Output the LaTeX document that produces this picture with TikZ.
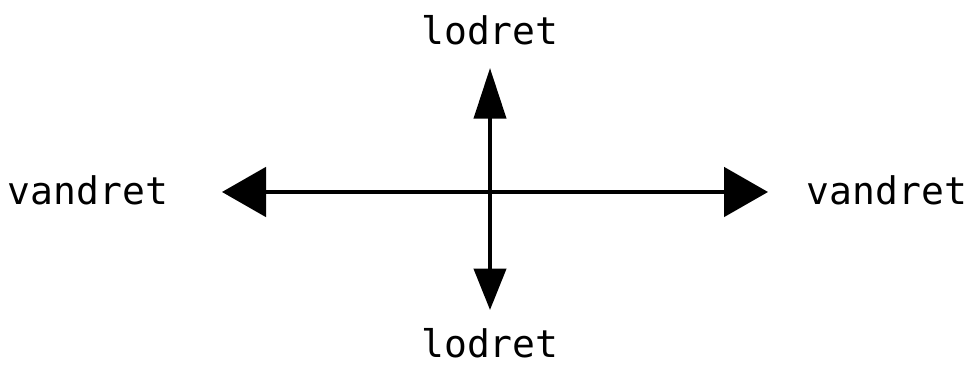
\documentclass[tikz,border=0pt]{standalone}
\usepackage{fontspec}
\setmonofont{DejaVu Sans Mono}
\usetikzlibrary{arrows.meta}

\begin{document}
\begin{tikzpicture}[
            x=0.75pt, y=0.75pt,
            dirlabel/.style={font=\fontsize{28.5}{34}\ttfamily, anchor=base, inner sep=0pt},
            axis/.style={line width=3pt, black},
            hhead/.style={axis, -{Triangle[length=33pt, width=37pt]}},
            vhead/.style={axis, -{Triangle[length=38pt, width=24pt]}},
            dhead/.style={axis, -{Triangle[length=31pt, width=24pt]}}
        ]
            \useasboundingbox (0,0) rectangle (971,367);

            % --- endepunkter ---
            \coordinate (c) at (490,175);
            \coordinate (up) at (490,299);
            \coordinate (down) at (490,57);
            \coordinate (left) at (222,175);
            \coordinate (right) at (768,175);

            % --- pile ---
            \draw[hhead] (c) -- (left);
            \draw[hhead] (c) -- (right);
            \draw[vhead] (c) -- (up);
            \draw[dhead] (c) -- (down);

            % --- tekster ---
            \node[dirlabel] (lodretop) at (490,322) {lodret};
            \node[dirlabel] (lodretned) at (490,9) {lodret};
            \node[dirlabel] (vandretv) at (88,162) {vandret};
            \node[dirlabel] (vandreth) at (887,162) {vandret};
        \end{tikzpicture}
\end{document}
